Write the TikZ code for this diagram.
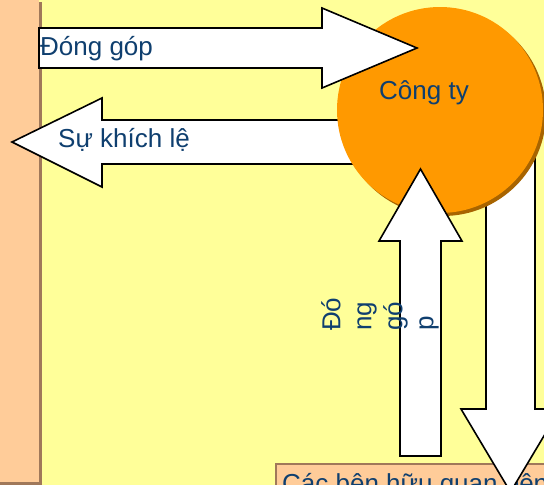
\documentclass[tikz,border=0pt]{standalone}
\usepackage{fontspec}
\setmainfont{Liberation Sans}
\definecolor{bgyellow}{HTML}{FFFF99}
\definecolor{peach}{HTML}{FFCC99}
\definecolor{peachshadow}{HTML}{A0785A}
\definecolor{orangefill}{HTML}{FF9900}
\definecolor{orangeshadow}{HTML}{A86400}
\definecolor{txtblue}{HTML}{0F3F6F}
\tikzset{
  arrowshape/.style={draw=black, line width=1.6pt, fill=white, line join=miter},
  lbl/.style={font=\fontsize{26}{31}\selectfont, text=txtblue, inner sep=0pt},
}
\begin{document}
\begin{tikzpicture}[x=1pt,y=-1pt]
\useasboundingbox (0,0) rectangle (544,485);
\clip (0,0) rectangle (544,485);
% background
\fill[bgyellow] (0,0) rectangle (544,485);
% left peach bar with shadow
\fill[peachshadow] (-7,2) rectangle (42,485);
\fill[peach] (-10,-1) rectangle (39,482);
% bottom box
\draw[fill=peach, draw=peachshadow, line width=2pt] (276,464) rectangle (560,520);
\node[lbl, anchor=base west] (others) at (282,492) {Các bên hữu quan bên};
% left arrow (Sự khích lệ)
\draw[arrowshape] (380,120) -- (102,120) -- (102,98) -- (12,142) -- (102,187) -- (102,164) -- (380,164) -- cycle;
% down arrow (right)
\draw[arrowshape] (486,140) -- (486,409) -- (461,409) -- (510.5,492) -- (560,409) -- (535,409) -- (535,140) -- cycle;
% circle with shadow
\fill[orangeshadow] (443,113) circle (103);
\node[circle, fill=orangefill, minimum size=206pt, inner sep=0pt] (company) at (440,110) {};
% right arrow (Đóng góp)
\draw[arrowshape] (39,28) -- (322,28) -- (322,8) -- (417,48) -- (322,88) -- (322,68) -- (39,68) -- cycle;
% up arrow
\draw[arrowshape] (400,456) -- (400,241) -- (379,241) -- (420.5,169) -- (462,241) -- (441,241) -- (441,456) -- cycle;
% texts
\node[lbl, anchor=base west] (contrib) at (40,55) {Đóng góp};
\node[lbl, anchor=base west] (encour) at (58,147) {Sự khích lệ};
\node[lbl, anchor=base west] (ctext) at (379,99) {Công ty};
\node[lbl, rotate=90, align=left, anchor=north west] (vcontrib) at (321,331) {Đó\\ng\\gó\\p};
\end{tikzpicture}
\end{document}
